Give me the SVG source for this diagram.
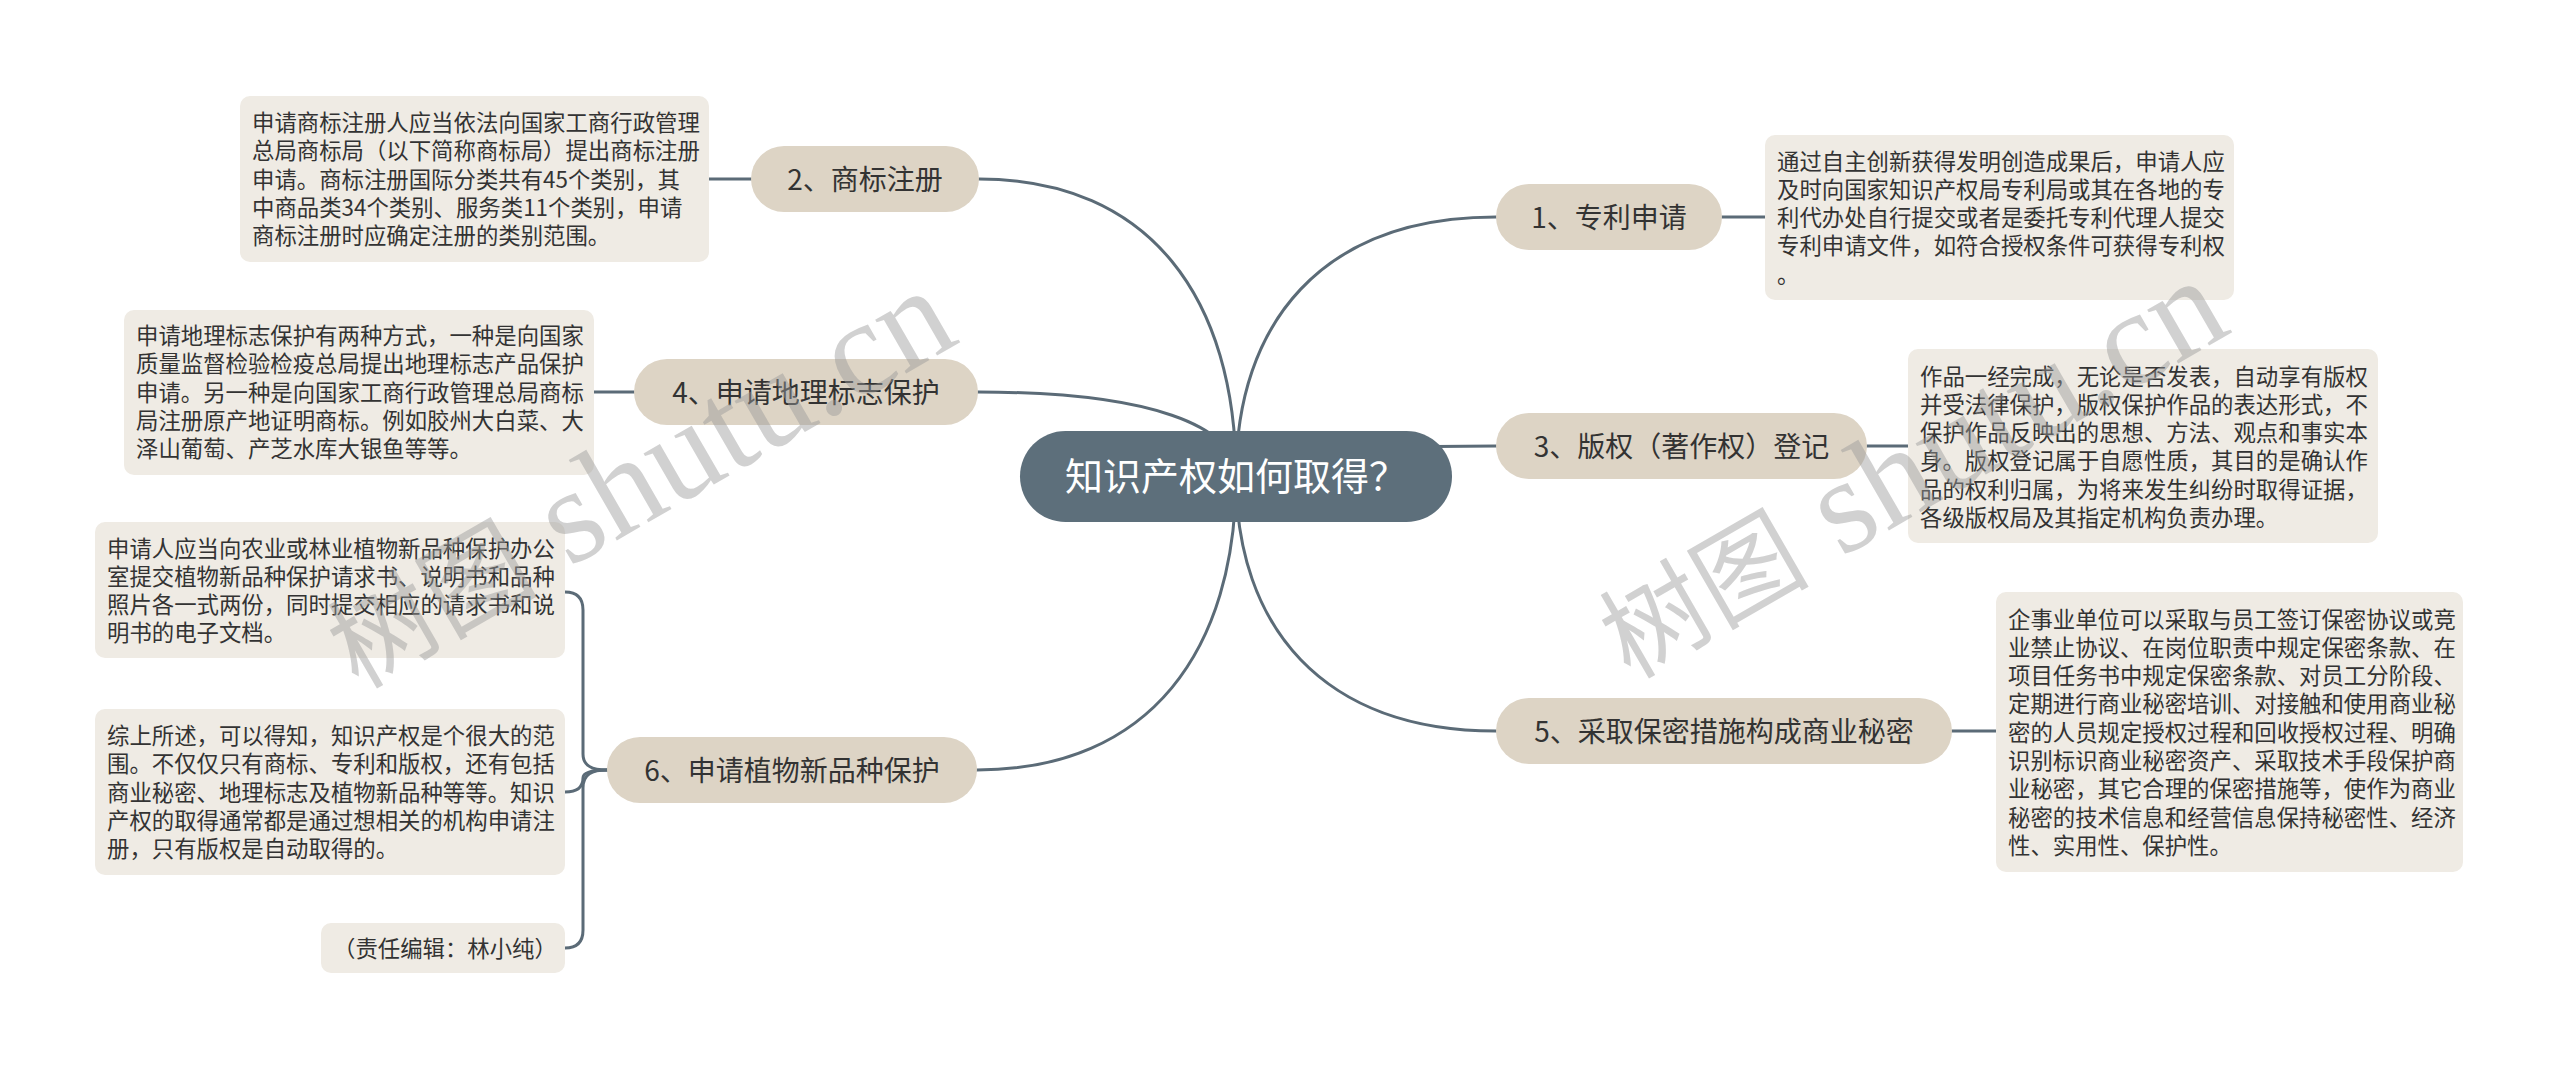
<svg xmlns="http://www.w3.org/2000/svg" width="2560" height="1070" viewBox="0 0 2560 1070">
<style>
.conn{fill:none;stroke:#5b6b77;stroke-width:3;stroke-linecap:round}
text{font-family:"Noto Sans CJK SC","Noto Sans",sans-serif}
.root rect{fill:#5d6f7b}
.root text{fill:#ffffff;font-size:38px;text-anchor:middle}
.branch rect{fill:#ddd4c5}
.branch text{fill:#333333;font-size:28px;text-anchor:middle}
.desc rect{fill:#efebe4}
.desc text{fill:#333333;font-size:22.4px}
.wm{font-family:"Liberation Serif","Noto Sans CJK SC",serif;font-size:135px;fill:#9a9a9a;fill-opacity:0.45}
.wm .cjk{font-size:105px}
</style>
<rect x="0" y="0" width="2560" height="1070" fill="#ffffff"/>
<g id="connectors">
<path class="conn" d="M1236,476 C1236,300 1151,179 979,179"/>
<path class="conn" d="M1236,476 C1236,426 1151,392 978,392"/>
<path class="conn" d="M1236,476 C1236,649 1151,770 977,770"/>
<path class="conn" d="M1236,476 C1236,323 1322,217 1496,217"/>
<path class="conn" d="M1236,476 C1236,458 1322,446 1496,446"/>
<path class="conn" d="M1236,476 C1236,626 1322,731 1496,731"/>
<path class="conn" d="M751,179 L709,179"/>
<path class="conn" d="M634,392 L594,392"/>
<path class="conn" d="M1722,217 L1765,217"/>
<path class="conn" d="M1867,446 L1908,446"/>
<path class="conn" d="M1952,731 L1996,731"/>
<path class="conn" d="M607,770 C592,770 583,766 583,754 L583,610 Q583,592 565,592"/>
<path class="conn" d="M607,770 C592,770 583,772 583,778 Q583,792 565,792"/>
<path class="conn" d="M607,770 C592,770 583,774 583,788 L583,930 Q583,948 565,948"/>
</g>
<g id="root" class="root">
<rect x="1020" y="431" width="432" height="91" rx="45.5"/>
<text x="1236" y="490">知识产权如何取得？</text>
</g>
<g id="node-2" class="branch">
<rect x="751" y="146" width="228" height="66" rx="33"/>
<text x="865" y="190">2、商标注册</text>
</g>
<g id="desc-2" class="desc">
<rect x="240" y="96" width="469" height="166" rx="10"/>
<text x="252" y="131">申请商标注册人应当依法向国家工商行政管理</text>
<text x="252" y="159.3">总局商标局（以下简称商标局）提出商标注册</text>
<text x="252" y="187.6">申请。商标注册国际分类共有45个类别，其</text>
<text x="252" y="215.9">中商品类34个类别、服务类11个类别，申请</text>
<text x="252" y="244.2">商标注册时应确定注册的类别范围。</text>
</g>
<g id="node-4" class="branch">
<rect x="634" y="359" width="344" height="66" rx="33"/>
<text x="806" y="403">4、申请地理标志保护</text>
</g>
<g id="desc-4" class="desc">
<rect x="124" y="310" width="470" height="165" rx="10"/>
<text x="136" y="344">申请地理标志保护有两种方式，一种是向国家</text>
<text x="136" y="372.3">质量监督检验检疫总局提出地理标志产品保护</text>
<text x="136" y="400.6">申请。另一种是向国家工商行政管理总局商标</text>
<text x="136" y="428.9">局注册原产地证明商标。例如胶州大白菜、大</text>
<text x="136" y="457.2">泽山葡萄、产芝水库大银鱼等等。</text>
</g>
<g id="node-6" class="branch">
<rect x="607" y="737" width="370" height="66" rx="33"/>
<text x="792" y="781">6、申请植物新品种保护</text>
</g>
<g id="desc-6a" class="desc">
<rect x="95" y="522" width="470" height="136" rx="10"/>
<text x="107" y="556.5">申请人应当向农业或林业植物新品种保护办公</text>
<text x="107" y="584.8">室提交植物新品种保护请求书、说明书和品种</text>
<text x="107" y="613.1">照片各一式两份，同时提交相应的请求书和说</text>
<text x="107" y="641.4">明书的电子文档。</text>
</g>
<g id="desc-6b" class="desc">
<rect x="95" y="709" width="470" height="166" rx="10"/>
<text x="107" y="744">综上所述，可以得知，知识产权是个很大的范</text>
<text x="107" y="772.3">围。不仅仅只有商标、专利和版权，还有包括</text>
<text x="107" y="800.6">商业秘密、地理标志及植物新品种等等。知识</text>
<text x="107" y="828.9">产权的取得通常都是通过想相关的机构申请注</text>
<text x="107" y="857.2">册，只有版权是自动取得的。</text>
</g>
<g id="desc-6c" class="desc">
<rect x="321" y="923" width="244" height="50" rx="10"/>
<text x="333" y="957">（责任编辑：林小纯）</text>
</g>
<g id="node-1" class="branch">
<rect x="1496" y="184" width="226" height="66" rx="33"/>
<text x="1609" y="228">1、专利申请</text>
</g>
<g id="desc-1" class="desc">
<rect x="1765" y="135" width="469" height="165" rx="10"/>
<text x="1777" y="169.5">通过自主创新获得发明创造成果后，申请人应</text>
<text x="1777" y="197.8">及时向国家知识产权局专利局或其在各地的专</text>
<text x="1777" y="226.1">利代办处自行提交或者是委托专利代理人提交</text>
<text x="1777" y="254.4">专利申请文件，如符合授权条件可获得专利权</text>
<text x="1777" y="282.7">。</text>
</g>
<g id="node-3" class="branch">
<rect x="1496" y="413" width="371" height="66" rx="33"/>
<text x="1681.5" y="457">3、版权（著作权）登记</text>
</g>
<g id="desc-3" class="desc">
<rect x="1908" y="349" width="470" height="194" rx="10"/>
<text x="1920" y="384.5">作品一经完成，无论是否发表，自动享有版权</text>
<text x="1920" y="412.8">并受法律保护，版权保护作品的表达形式，不</text>
<text x="1920" y="441.1">保护作品反映出的思想、方法、观点和事实本</text>
<text x="1920" y="469.4">身。版权登记属于自愿性质，其目的是确认作</text>
<text x="1920" y="497.7">品的权利归属，为将来发生纠纷时取得证据，</text>
<text x="1920" y="526">各级版权局及其指定机构负责办理。</text>
</g>
<g id="node-5" class="branch">
<rect x="1496" y="698" width="456" height="66" rx="33"/>
<text x="1724" y="742">5、采取保密措施构成商业秘密</text>
</g>
<g id="desc-5" class="desc">
<rect x="1996" y="592" width="467" height="280" rx="10"/>
<text x="2008" y="627.5">企事业单位可以采取与员工签订保密协议或竞</text>
<text x="2008" y="655.8">业禁止协议、在岗位职责中规定保密条款、在</text>
<text x="2008" y="684.1">项目任务书中规定保密条款、对员工分阶段、</text>
<text x="2008" y="712.4">定期进行商业秘密培训、对接触和使用商业秘</text>
<text x="2008" y="740.7">密的人员规定授权过程和回收授权过程、明确</text>
<text x="2008" y="769">识别标识商业秘密资产、采取技术手段保护商</text>
<text x="2008" y="797.3">业秘密，其它合理的保密措施等，使作为商业</text>
<text x="2008" y="825.6">秘密的技术信息和经营信息保持秘密性、经济</text>
<text x="2008" y="853.9">性、实用性、保护性。</text>
</g>
<g id="watermark">
<text class="wm" x="358" y="690" transform="rotate(-30 358 690)"><tspan class="cjk">树图</tspan> shutu.cn</text>
<text class="wm" x="1630" y="680" transform="rotate(-30 1630 680)"><tspan class="cjk">树图</tspan> shutu.cn</text>
</g>
</svg>
